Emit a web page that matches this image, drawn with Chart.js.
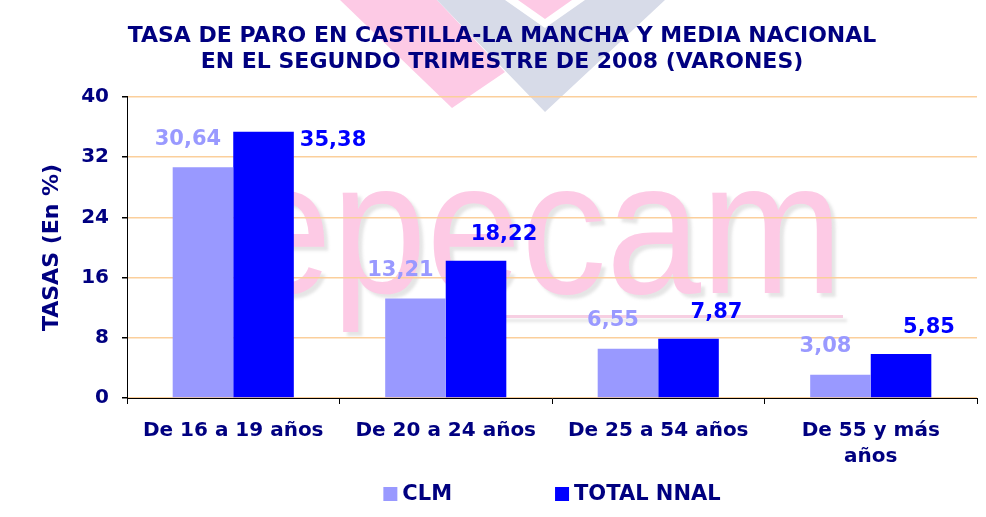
<!DOCTYPE html>
<html>
<head>
<meta charset="utf-8">
<script src="https://cdn.jsdelivr.net/npm/chart.js@4.4.1/dist/chart.umd.min.js"></script>
<style>
  html, body { margin: 0; padding: 0; background: #fff; }
  #wrap { width: 986px; height: 517px; }
</style>
</head>
<body>
<div id="wrap"><canvas id="grafico"></canvas></div>
<script>
// Datos
const categorias = ['De 16 a 19 años', 'De 20 a 24 años', 'De 25 a 54 años', ['De 55 y más', 'años']];
const serieCLM = [30.64, 13.21, 6.55, 3.08];
const serieNacional = [35.38, 18.22, 7.87, 5.85];
const nombresSeries = ['CLM', 'TOTAL NNAL'];
const coloresSeries = ['#9999ff', '#0000ff'];
const tituloLineas = ['TASA DE PARO EN CASTILLA-LA MANCHA Y MEDIA NACIONAL', 'EN EL SEGUNDO TRIMESTRE DE 2008 (VARONES)'];
const tituloEjeY = 'TASAS (En %)';
const ejeYMax = 40;
const ejeYPaso = 8;

const azulOscuro = '#000080';
const fuente = '"DejaVu Sans", Verdana, sans-serif';
const colorRejilla = '#fbcf9c';

// Marca de agua (logo y texto epecam) detras del grafico
const marcaAgua = {
    id: 'marcaAgua',
    beforeDraw(chart) {
        const ctx = chart.ctx;
        ctx.save();
        ctx.fillStyle = '#fdcae5';
        ctx.beginPath();
        ctx.moveTo(340, 0); ctx.lineTo(437, 0); ctx.lineTo(505, 72); ctx.lineTo(452, 108);
        ctx.closePath(); ctx.fill();
        ctx.fillStyle = '#d7dbe8';
        ctx.beginPath();
        ctx.moveTo(437, 0); ctx.lineTo(545, 112); ctx.lineTo(665, 0);
        ctx.lineTo(585, 0); ctx.lineTo(545, 28); ctx.lineTo(505, 0);
        ctx.closePath(); ctx.fill();
        ctx.fillStyle = '#fdcae5';
        ctx.beginPath();
        ctx.moveTo(518, 0); ctx.lineTo(545, 19); ctx.lineTo(572, 0);
        ctx.closePath(); ctx.fill();

        ctx.shadowColor = 'rgba(110,110,110,0.18)';
        ctx.shadowOffsetX = 4;
        ctx.shadowOffsetY = 4;
        ctx.shadowBlur = 3;
        ctx.font = '190px "Liberation Sans", Arial, sans-serif';
        const ancho = ctx.measureText('epecam').width;
        ctx.translate(237, 293);
        ctx.scale(606 / ancho, 1);
        ctx.fillText('epecam', 0, 0);
        ctx.setTransform(1, 0, 0, 1, 0, 0);
        ctx.fillStyle = '#f7cfe2';
        ctx.fillRect(477, 315, 366, 3);
        ctx.restore();
    }
};

// Etiquetas con el valor de cada barra
const etiquetasValor = {
    id: 'etiquetasValor',
    afterDatasetsDraw(chart) {
        const ctx = chart.ctx;
        ctx.save();
        ctx.font = 'bold 21px ' + fuente;
        ctx.textBaseline = 'middle';
        chart.data.datasets.forEach((ds, i) => {
            chart.getDatasetMeta(i).data.forEach((bar, j) => {
                const texto = ds.data[j].toFixed(2).replace('.', ',');
                ctx.fillStyle = ds.backgroundColor;
                if (i === 0) {
                    ctx.textAlign = 'center';
                    ctx.fillText(texto, bar.x - 15, bar.y - 28);
                } else if (bar.y - 26 < chart.chartArea.top + 45) {
                    ctx.textAlign = 'left';
                    ctx.fillText(texto, bar.x + bar.width / 2 + 6, bar.y + 9);
                } else {
                    ctx.textAlign = 'center';
                    ctx.fillText(texto, bar.x + 28, bar.y - 26);
                }
            });
        });
        ctx.restore();
    }
};

// Leyenda inferior
const leyenda = {
    id: 'leyenda',
    afterDraw(chart) {
        const ctx = chart.ctx;
        const area = chart.chartArea;
        ctx.save();
        ctx.font = 'bold 21px ' + fuente;
        ctx.textBaseline = 'middle';
        ctx.textAlign = 'left';
        const caja = 14, hueco = 5, separacion = 103;
        const items = chart.data.datasets.map(ds => ({ texto: ds.label, color: ds.backgroundColor, w: ctx.measureText(ds.label).width }));
        let total = 0;
        items.forEach((it, k) => { total += caja + hueco + it.w + (k > 0 ? separacion : 0); });
        let x = (area.left + area.right) / 2 - total / 2;
        const y = chart.height - 23;
        items.forEach(it => {
            ctx.fillStyle = it.color;
            ctx.fillRect(x, y - caja / 2, caja, caja);
            ctx.fillStyle = azulOscuro;
            ctx.fillText(it.texto, x + caja + hueco, y + 1);
            x += caja + hueco + it.w + separacion;
        });
        ctx.restore();
    }
};

const ctx = document.getElementById('grafico').getContext('2d');
const grafico = new Chart(ctx, {
    type: 'bar',
    data: {
        labels: categorias,
        datasets: [
            { label: nombresSeries[0], data: serieCLM, backgroundColor: coloresSeries[0] },
            { label: nombresSeries[1], data: serieNacional, backgroundColor: coloresSeries[1] }
        ]
    },
    options: {
        responsive: true,
        maintainAspectRatio: false,
        animation: false,
        layout: { padding: { left: 27, right: 9, top: 0, bottom: 50 } },
        datasets: { bar: { categoryPercentage: 0.57, barPercentage: 1.0 } },
        plugins: {
            legend: { display: false },
            tooltip: { enabled: false },
            title: {
                display: true,
                text: tituloLineas,
                color: azulOscuro,
                font: { family: fuente, size: 22, weight: 'bold', lineHeight: 1.18 },
                padding: { top: 23, bottom: 22 }
            }
        },
        scales: {
            x: {
                grid: { display: true, drawOnChartArea: false, offset: true, tickLength: 6, tickColor: '#000', color: '#000' },
                border: { color: '#000', width: 1 },
                ticks: {
                    color: azulOscuro,
                    padding: 14,
                    maxRotation: 0,
                    autoSkip: false,
                    font: { family: fuente, size: 20, weight: 'bold', lineHeight: 1.3 }
                },
                afterFit(scale) { scale.height = 69; }
            },
            y: {
                min: 0,
                max: ejeYMax,
                ticks: {
                    stepSize: ejeYPaso,
                    color: azulOscuro,
                    padding: 13,
                    font: { family: fuente, size: 20, weight: 'bold' }
                },
                grid: { color: () => colorRejilla, tickColor: '#000', tickLength: 5, lineWidth: 1.5 },
                border: { color: '#000', width: 1 },
                title: {
                    display: true,
                    text: tituloEjeY,
                    color: azulOscuro,
                    font: { family: fuente, size: 22, weight: 'bold' },
                    padding: { top: 12, bottom: 0 }
                },
                afterFit(scale) { scale.width = 100; }
            }
        }
    },
    plugins: [marcaAgua, etiquetasValor, leyenda]
});
</script>
</body>
</html>
